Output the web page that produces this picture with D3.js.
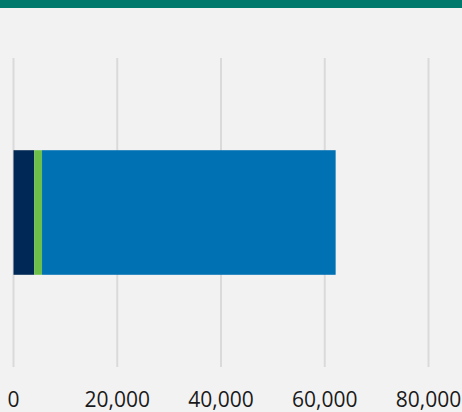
<!DOCTYPE html>
<html lang='en'>
<head>
    <meta charset='UTF-8'>
    <title>Stacked bar</title>
    <script src='https://d3js.org/d3.v7.min.js'></script>
    <style>
      body { margin: 0; background: #f2f2f2; }
      svg { display: block; }
    </style>
</head>
<body>
<svg width='462' height='412'></svg>
<script>
    // data
    const categories = ['Total']
    const seriesNames = ['A', 'B', 'C']
    const seriesValues = [4000, 1500, 56600]
    const seriesColors = ['#002856', '#6cc04a', '#0071b3']
    const tickValues = [0, 20000, 40000, 60000, 80000]

    const svg = d3.select('svg')
    const W = 462, H = 412

    svg.append('rect').attr('width', W).attr('height', H).attr('fill', '#f2f2f2')
    svg.append('rect').attr('width', W).attr('height', 8).attr('fill', '#00796d') // top band

    const x = d3.scaleLinear().domain([0, 80000]).range([13.5, 428.5])
    const y = d3.scaleBand().domain(categories).range([58, 367]).paddingInner(0).paddingOuter(0.74)

    // gridlines
    svg.append('g')
      .selectAll('line')
      .data(tickValues)
      .join('line')
        .attr('x1', d => x(d)).attr('x2', d => x(d))
        .attr('y1', 58).attr('y2', 367)
        .attr('stroke', '#dadada').attr('stroke-width', 2)

    // stacked segments
    const row = {}
    seriesNames.forEach((s, i) => row[s] = seriesValues[i])
    const stacked = d3.stack().keys(seriesNames)([row])

    svg.append('g')
      .selectAll('rect')
      .data(stacked)
      .join('rect')
        .attr('x', d => x(d[0][0]))
        .attr('width', d => x(d[0][1]) - x(d[0][0]))
        .attr('y', y('Total'))
        .attr('height', y.bandwidth())
        .attr('fill', (d, i) => seriesColors[i])

    // tick labels
    svg.append('g')
      .selectAll('text')
      .data(tickValues)
      .join('text')
        .attr('x', d => x(d))
        .attr('y', 407)
        .attr('text-anchor', 'middle')
        .style('font-family', '"Open Sans", sans-serif')
        .style('font-size', '21px')
        .attr('fill', '#1a1a1a')
        .text(d => d3.format(',')(d))
</script>
</body>
</html>
